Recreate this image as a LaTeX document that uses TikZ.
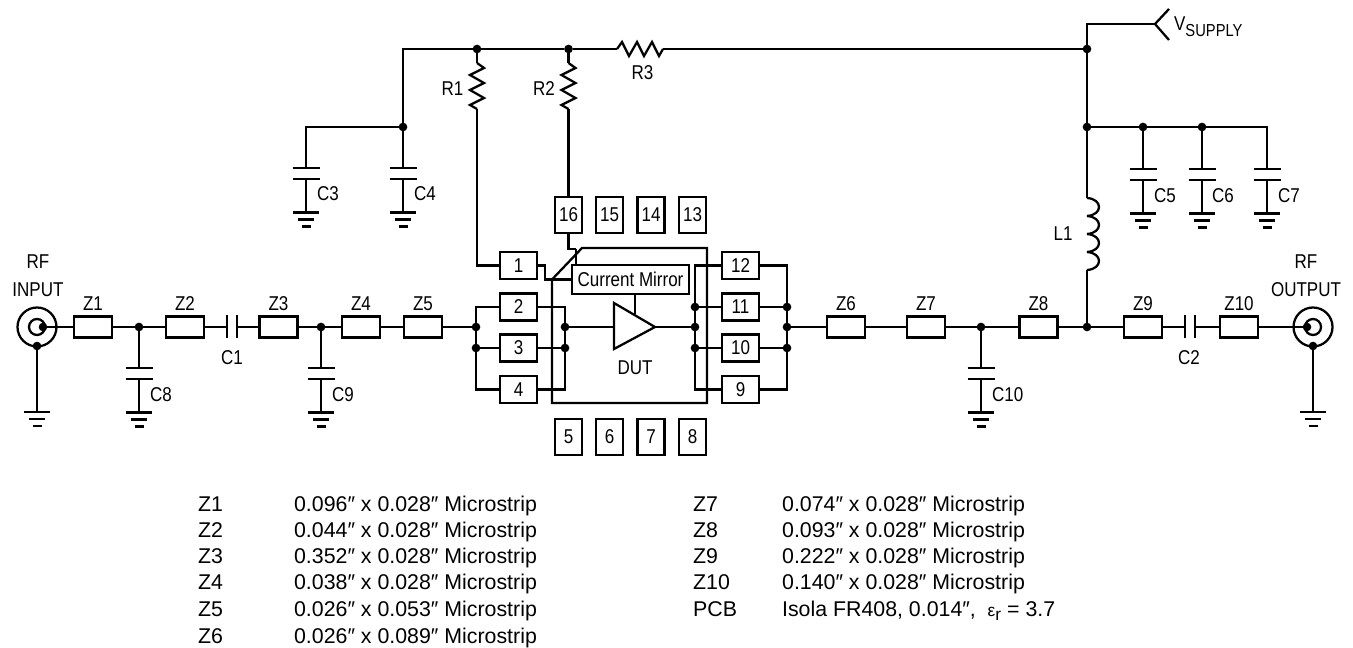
\documentclass[tikz,border=0pt]{standalone}
\usepackage{fontspec}
\setmainfont{Liberation Sans}
\newfontfamily\narrowfont[FakeStretch=0.85]{Liberation Sans}
\newcommand{\lblfont}{\narrowfont\fontsize{15}{18}\selectfont}
\newcommand{\tblfont}{\fontsize{16}{18}\selectfont}
\newcommand{\epsr}{{\fontsize{13}{13}\selectfont ε}\raisebox{-3pt}{\fontsize{13}{13}\selectfont r}}

\tikzset{every picture/.style={line width=1.7pt}}
\tikzset{
  zbox/.style={draw,outer sep=0pt,inner sep=0pt,minimum width=28.5pt,minimum height=15.75pt},
  vpin/.style={draw,outer sep=0pt,inner sep=0pt,minimum width=20.25pt,minimum height=27pt,font=\lblfont},
  hpin/.style={draw,outer sep=0pt,inner sep=0pt,minimum width=27.75pt,minimum height=20.25pt,font=\lblfont},
  jdot/.style={circle,fill=black,inner sep=0pt,outer sep=0pt,minimum size=6.5pt},
  partlabel/.style={inner sep=0.75pt,font=\lblfont},
  tabletext/.style={anchor=base west,inner sep=0pt,font=\tblfont},
  pics/gnd/.style={code={
    \draw (-13,0) -- (13,0) (-8,-7) -- (8,-7) (-4.5,-14) -- (4.5,-14);
  }},
  pics/capgnd/.style={code={
    \coordinate (-top) at (0,0);
    \draw (-13.5,0) -- (13.5,0) (-13.5,-11) -- (13.5,-11);
    \draw (0,-11) -- (0,-44.5);
    \draw (-13,-44.5) -- (13,-44.5) (-8,-51.5) -- (8,-51.5) (-4.5,-58.5) -- (4.5,-58.5);
  }},
  pics/capser/.style={code={
    \coordinate (-a) at (-5,0);
    \coordinate (-b) at (5,0);
    \draw (-5,-11.5) -- (-5,11.5) (5,-11.5) -- (5,11.5);
  }},
  pics/zigzag/.style={code={
    \coordinate (-a) at (0,0);
    \coordinate (-b) at (46,0);
    \draw (0,0) -- (5,7) -- (12,-7) -- (20,7) -- (27,-7) -- (35,7) -- (42,-7) -- (46,0);
  }},
  pics/coax/.style={code={
    \coordinate (-in) at (#1,0);
    \draw (0,0) circle (19.5);
    \draw (0,0) circle (8);
    \fill (#1,0) circle (4.3);
    \fill (0,-19) circle (4.3);
  }},
}

\begin{document}
\begin{tikzpicture}[x=0.75pt,y=0.75pt,yscale=-1,xscale=1]
\useasboundingbox (0,0) rectangle (1353,648);

%Shape: Microstrip lines
\foreach \name/\cx in {Z1/93,Z2/185,Z3/278.5,Z4/361,Z5/423,Z6/846,Z7/926,Z8/1038.5,Z9/1143,Z10/1239}{
  \draw (\cx,327) node [zbox] (\name) {};
  \draw (\cx,304) node [partlabel] (l\name) {\name};
}

%Shape: Junctions
\foreach \name/\cx/\cy in {D1/477/49,D2/568.5/49,DV/1087/49,D4/403/127,DC/1087/127,D5/1143/127,D6/1202/127,
  D8/139/327,D9/321/327,D10/981/327,DL/1087/327,
  DA/476/327,DB/476/348,DI/565/327,DJ/565/348,
  DR/695/307,DS/695/327,DT/695/348,DO/787/307,DP/787/327,DQ/787/348}{
  \draw (\cx,\cy) node [jdot] (\name) {};
}

%Shape: Package pins
\foreach \name/\cx in {16/568.5,15/609.5,14/651,13/692.5}
  \draw (\cx,215) node [vpin] (P\name) {\name};
\foreach \name/\cx in {5/568.5,6/609.5,7/651,8/692.5}
  \draw (\cx,437) node [vpin] (P\name) {\name};
\foreach \name/\cy in {1/265.5,2/307,3/348,4/389.5}
  \draw (518.5,\cy) node [hpin] (P\name) {\name};
\foreach \name/\cy in {12/265.5,11/307,10/348,9/389.5}
  \draw (740.5,\cy) node [hpin] (P\name) {\name};

%Shape: Device outline
\draw (552,279.5) -- (582,248) -- (707,248) -- (707,403) -- (552,403) -- cycle;
\draw (630.5,279.5) node [draw,fill=white,outer sep=0pt,inner sep=0pt,minimum width=87.75pt,minimum height=21.75pt,font=\lblfont] (CM) {Current Mirror};
\coordinate (AMPin) at (614,327);
\coordinate (AMPout) at (655,327);
\coordinate (AMPtop) at (635,314);
\draw (AMPin |- 0,303) -- (AMPout) -- (AMPin |- 0,349) -- cycle;
\draw (635,368) node [partlabel] (lDUT) {DUT};

%Shape: Capacitors to ground
\pic (C3) at (306,168) {capgnd};
\pic (C4) at (403,168) {capgnd};
\pic (C5) at (1143,169) {capgnd};
\pic (C6) at (1202,169) {capgnd};
\pic (C7) at (1267,169) {capgnd};
\pic (C8) at (139,368) {capgnd};
\pic (C9) at (321,368) {capgnd};
\pic (C10) at (981,368) {capgnd};
\foreach \name/\cx/\cy in {C3/315/194,C4/412/194,C5/1152/196,C6/1210/196,C7/1276/196,C8/148/395,C9/330/395,C10/990/395}
  \draw (\cx,\cy) node [partlabel,anchor=west] (l\name) {\name};

%Shape: Series capacitors
\pic (C1) at (232,327) {capser};
\pic (C2) at (1190,327) {capser};
\draw (232,358) node [partlabel] (lC1) {C1};
\draw (1189,358) node [partlabel] (lC2) {C2};

%Shape: Resistors
\pic (R1) [rotate=-90] at (477,63) {zigzag};
\pic (R2) [rotate=-90] at (568.5,63) {zigzag};
\pic (R3) at (617,49) {zigzag};
\draw (452.5,89) node [partlabel] (lR1) {R1};
\draw (544,89) node [partlabel] (lR2) {R2};
\draw (642.5,73) node [partlabel] (lR3) {R3};

%Shape: Inductor
\coordinate (L1a) at (1087,198);
\coordinate (L1b) at (1087,270);
\foreach \cy in {198,216,234,252}
  \draw (1087,\cy) .. controls (1103,\cy+1) and (1103,\cy+17) .. (1087,\cy+18);
\draw (1063,234) node [partlabel] (lL1) {L1};

%Shape: Coax connectors
\pic (J1) at (37,327) {coax=6};
\pic (J2) at (1313,327) {coax=-6};
\pic at (37,412) {gnd};
\pic at (1313,412) {gnd};
\coordinate (J1g) at (37,346);
\coordinate (J1e) at (37,412);
\coordinate (J2g) at (1313,346);
\coordinate (J2e) at (1313,412);
\draw (38,276) node [partlabel,align=center] (lJ1) {RF\\[3pt]INPUT};
\draw (1306,276) node [partlabel,align=center] (lJ2) {RF\\[3pt]OUTPUT};

%Shape: Supply arrow
\coordinate (VS) at (1155,24);
\draw (1169,9) -- (VS) -- (1169,40);
\draw (1172,27) node [partlabel,anchor=west] (lVS) {V\raisebox{-4.5pt}{\fontsize{13}{13}\selectfont SUPPLY}};

%Shape: Supply wiring
\coordinate (T1) at (403,49);
\coordinate (T2) at (306,127);
\coordinate (T3) at (1267,127);
\draw (C4-top) -- (D4) -- (T1) -- (D1) -- (D2) -- (R3-a);
\draw (R3-b) -- (DV);
\draw (D4) -- (T2) -- (C3-top);
\draw (VS) -| (DV);
\draw (DV) -- (DC) -- (L1a);
\draw (L1b) -- (DL);
\draw (DC) -- (D5) -- (D6) -- (T3) -- (C7-top);
\draw (D5) -- (C5-top);
\draw (D6) -- (C6-top);
\draw (D1) -- (R1-a);
\draw (D2) -- (R2-a);
\draw (R1-b) |- (P1.west);
\draw (R2-b) -- (P16.north);

%Shape: RF line
\draw (J1-in) -- (Z1) -- (D8) -- (Z2) -- (C1-a);
\draw (C1-b) -- (Z3) -- (D9) -- (Z4) -- (Z5) -- (DA);
\draw (DP) -- (Z6) -- (Z7) -- (D10) -- (Z8) -- (DL) -- (Z9) -- (C2-a);
\draw (C2-b) -- (Z10) -- (J2-in);
\draw (D8) -- (C8-top);
\draw (D9) -- (C9-top);
\draw (D10) -- (C10-top);
\draw (J1g) -- (J1e);
\draw (J2g) -- (J2e);

%Shape: Device wiring
\draw (P2.west) -| (DA) -- (DB) |- (P4.west);
\draw (DB) -- (P3.west);
\draw (P2.east) -| (DI) -- (DJ) |- (P4.east);
\draw (DJ) -- (P3.east);
\draw (DI) -- (AMPin);
\draw (AMPout) -- (DS);
\draw (P12.west) -| (DR) -- (DS) -- (DT) |- (P9.west);
\draw (DR) -- (P11.west);
\draw (DT) -- (P10.west);
\draw (P12.east) -| (DO) -- (DP) -- (DQ) |- (P9.east);
\draw (DO) -- (P11.east);
\draw (DQ) -- (P10.east);
\coordinate (kinkA) at (545,279.5);
\coordinate (kinkB) at (576,249);
\draw (P1.east) -| (kinkA) -- (CM.west);
\draw (P16.south) |- (kinkB);
\draw (kinkB) -- (kinkB |- CM.north);
\draw (CM.south -| AMPtop) -- (AMPtop);

% Text Node
\foreach \lab/\val/\cy in {Z1/{0.096″ x 0.028″ Microstrip}/511,Z2/{0.044″ x 0.028″ Microstrip}/537,Z3/{0.352″ x 0.028″ Microstrip}/563,Z4/{0.038″ x 0.028″ Microstrip}/589,Z5/{0.026″ x 0.053″ Microstrip}/616,Z6/{0.026″ x 0.089″ Microstrip}/643}{
  \draw (197,\cy) node [tabletext] (t\lab) {\lab};
  \draw (293,\cy) node [tabletext] (v\lab) {\val};
}
% Text Node
\foreach \lab/\val/\cy in {Z7/{0.074″ x 0.028″ Microstrip}/511,Z8/{0.093″ x 0.028″ Microstrip}/537,Z9/{0.222″ x 0.028″ Microstrip}/563,Z10/{0.140″ x 0.028″ Microstrip}/589,PCB/{Isola FR408, 0.014″,\ \ \epsr\ = 3.7}/616}{
  \draw (692,\cy) node [tabletext] (t\lab) {\lab};
  \draw (781,\cy) node [tabletext] (v\lab) {\val};
}
\end{tikzpicture}
\end{document}
